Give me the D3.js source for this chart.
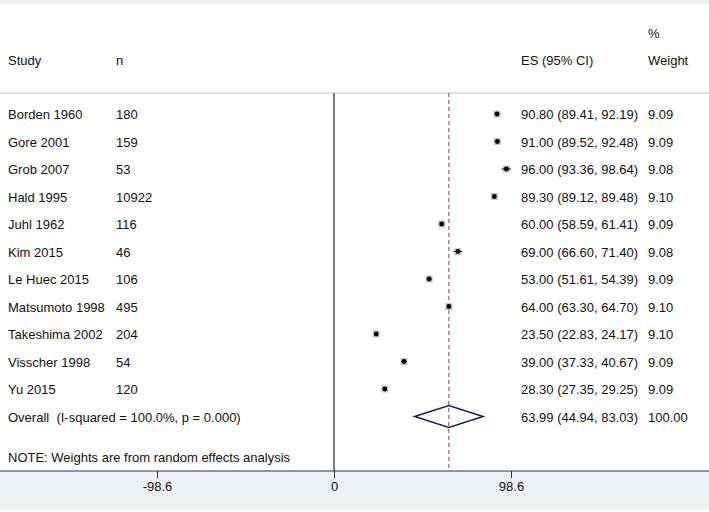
<!DOCTYPE html>
<html>
<head>
<meta charset="utf-8">
<script src="https://cdn.jsdelivr.net/npm/d3@7"></script>
<style>
  body { margin: 0; background: #fff; }
  svg text { font-family: "Liberation Sans", Arial, sans-serif; font-size: 13px; fill: #111; white-space: pre; }
</style>
</head>
<body>
<script>
// forest plot - study level estimates with random effects pooled diamond
const studies = ["Borden 1960", "Gore 2001", "Grob 2007", "Hald 1995", "Juhl 1962", "Kim 2015",
  "Le Huec 2015", "Matsumoto 1998", "Takeshima 2002", "Visscher 1998", "Yu 2015"];
const ns = [180, 159, 53, 10922, 116, 46, 106, 495, 204, 54, 120];
const es = [90.80, 91.00, 96.00, 89.30, 60.00, 69.00, 53.00, 64.00, 23.50, 39.00, 28.30];
const lo = [89.41, 89.52, 93.36, 89.12, 58.59, 66.60, 51.61, 63.30, 22.83, 37.33, 27.35];
const hi = [92.19, 92.48, 98.64, 89.48, 61.41, 71.40, 54.39, 64.70, 24.17, 40.67, 29.25];
const weights = ["9.09", "9.09", "9.08", "9.10", "9.09", "9.08", "9.09", "9.10", "9.10", "9.09", "9.09"];
const overall = { es: 63.99, lo: 44.94, hi: 83.03, weight: "100.00" };
const xTicks = [-98.6, 0, 98.6];

const w = 709;
const h = 512;

const svg = d3.select('body')
  .append('svg')
  .attr('width', w)
  .attr('height', h);

// background bands
svg.append('rect').attr('x', 0).attr('y', 0).attr('width', w).attr('height', 4).style('fill', '#eaf2f3');
svg.append('rect').attr('x', 0).attr('y', 471).attr('width', w).attr('height', 39).style('fill', '#eaf2f3');

const x = d3.scaleLinear()
  .domain([-98.6, 98.6])
  .range([157, 511]);

const y = d3.scaleLinear()
  .domain([0, studies.length])
  .range([114, 114 + studies.length * 27.5]);

const plotTop = 93, plotBottom = 471;
const fmt = d3.format('.2f');

// header
svg.append('line').attr('x1', 0).attr('x2', w).attr('y1', plotTop).attr('y2', plotTop)
  .style('stroke', '#c8c8c8').style('stroke-width', 1);

const header = [["Study", 8, 65], ["n", 116, 65], ["ES (95% CI)", 521, 65], ["%", 648, 38], ["Weight", 648, 65]];
svg.selectAll('.hdr')
  .data(header)
  .enter()
  .append('text')
  .attr('class', 'hdr')
  .attr('x', d => d[1])
  .attr('y', d => d[2])
  .text(d => d[0]);

// null line and overall dashed line
svg.append('line')
  .attr('x1', x(0)).attr('x2', x(0)).attr('y1', plotTop).attr('y2', plotBottom)
  .style('stroke', '#222').style('stroke-width', 1.2);

svg.append('line')
  .attr('x1', x(overall.es)).attr('x2', x(overall.es)).attr('y1', plotTop).attr('y2', plotBottom)
  .style('stroke', '#a5596a').style('stroke-width', 1.2)
  .style('stroke-dasharray', '4,3');

// study rows
const rows = svg.selectAll('.row')
  .data(studies)
  .enter()
  .append('g')
  .attr('class', 'row')
  .attr('transform', (d, i) => 'translate(0,' + y(i) + ')');

rows.append('text').attr('x', 8).attr('y', 5).text(d => d);
rows.append('text').attr('x', 116).attr('y', 5).text((d, i) => ns[i]);
rows.append('text').attr('x', 521).attr('y', 5)
  .text((d, i) => fmt(es[i]) + ' (' + fmt(lo[i]) + ', ' + fmt(hi[i]) + ')');
rows.append('text').attr('x', 648).attr('y', 5).text((d, i) => weights[i]);

rows.append('rect')
  .attr('x', (d, i) => x(es[i]) - 3.5)
  .attr('y', -3.5)
  .attr('width', 7)
  .attr('height', 7)
  .style('fill', '#c4c4c4');

rows.append('line')
  .attr('x1', (d, i) => x(lo[i]))
  .attr('x2', (d, i) => x(hi[i]))
  .attr('y1', 0).attr('y2', 0)
  .style('stroke', '#111').style('stroke-width', 1);

rows.append('circle')
  .attr('cx', (d, i) => x(es[i]))
  .attr('cy', 0)
  .attr('r', 2.4)
  .style('fill', '#000');

// overall row
const oy = y(studies.length);
svg.append('text').attr('x', 8).attr('y', oy + 5)
  .text('Overall  (I-squared = 100.0%, p = 0.000)');
svg.append('text').attr('x', 521).attr('y', oy + 5)
  .text(fmt(overall.es) + ' (' + fmt(overall.lo) + ', ' + fmt(overall.hi) + ')');
svg.append('text').attr('x', 648).attr('y', oy + 5).text(overall.weight);

const dh = 11;
svg.append('path')
  .attr('d', 'M' + x(overall.lo) + ',' + oy +
    'L' + x(overall.es) + ',' + (oy - dh) +
    'L' + x(overall.hi) + ',' + oy +
    'L' + x(overall.es) + ',' + (oy + dh) + 'Z')
  .style('fill', 'none')
  .style('stroke', '#1b1b6b')
  .style('stroke-width', 1.5);

svg.append('text').attr('x', 8).attr('y', 462)
  .text('NOTE: Weights are from random effects analysis');

// x axis
svg.append('line').attr('x1', 0).attr('x2', w).attr('y1', plotBottom).attr('y2', plotBottom)
  .style('stroke', '#333').style('stroke-width', 1);

const xAxis = d3.axisBottom(x)
  .tickValues(xTicks)
  .tickSize(7)
  .tickFormat(d => d === 0 ? '0' : d.toFixed(1));

const ax = svg.append('g')
  .attr('transform', 'translate(0,' + plotBottom + ')')
  .call(xAxis);
ax.select('.domain').remove();
ax.selectAll('.tick line').style('stroke', '#333');
ax.selectAll('.tick text').attr('y', 11).style('font-size', '13px').style('fill', '#111')
  .style('font-family', '"Liberation Sans", Arial, sans-serif');
</script>
</body>
</html>
